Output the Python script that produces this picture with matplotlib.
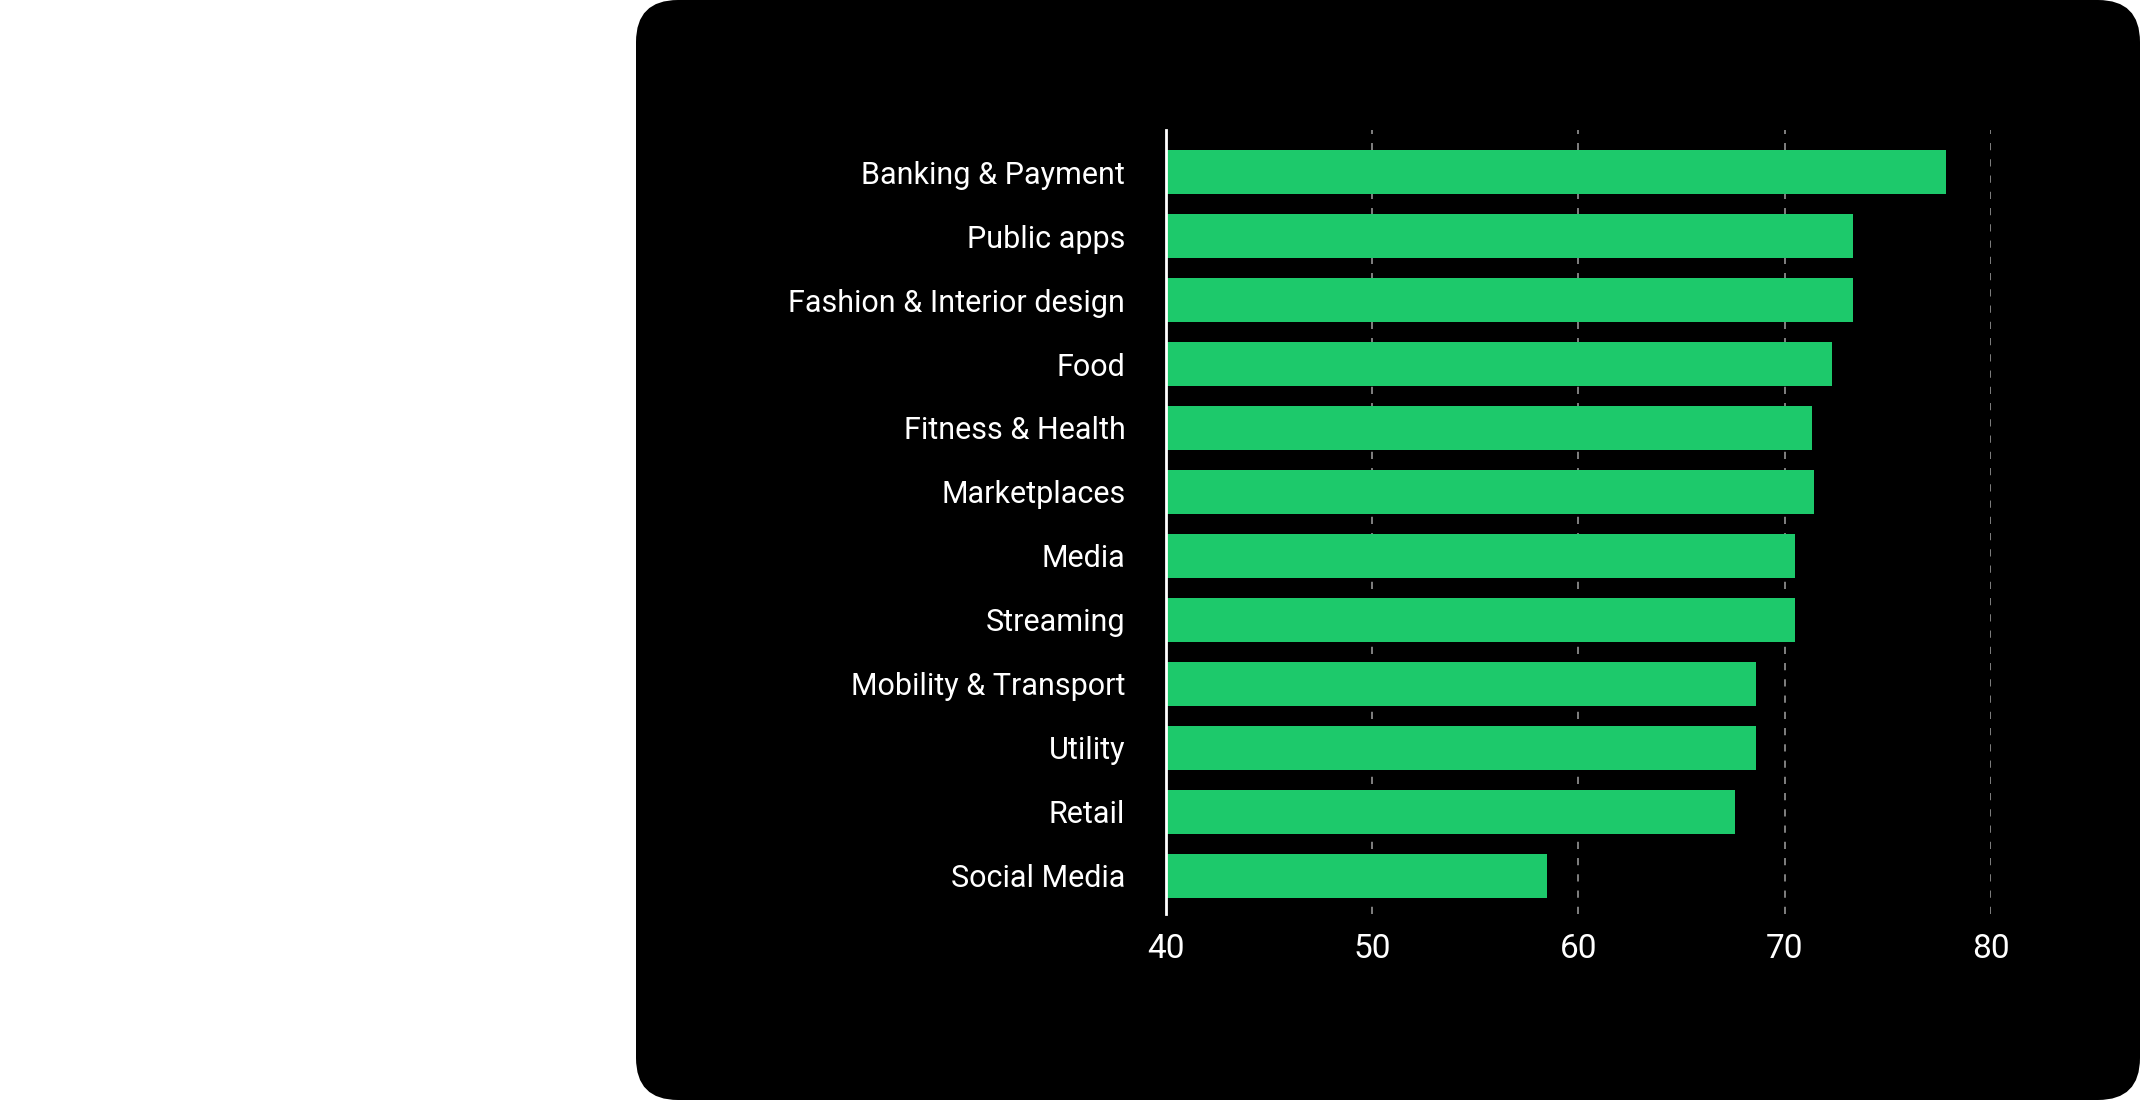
import matplotlib.pyplot as plt
from matplotlib.patches import FancyBboxPatch

categories = ["Banking & Payment", "Public apps", "Fashion & Interior design", "Food",
              "Fitness & Health", "Marketplaces", "Media", "Streaming",
              "Mobility & Transport", "Utility", "Retail", "Social Media"]
values = [77.8, 73.3, 73.3, 72.3, 71.3, 71.4, 70.5, 70.5, 68.6, 68.6, 67.6, 58.5]
xticks = [40, 50, 60, 70, 80]

green = "#1dc96b"
plt.rcParams['font.family'] = ['Roboto', 'DejaVu Sans']

W, H = 2140, 1100
fig = plt.figure(figsize=(W / 100, H / 100), dpi=100)
fig.patch.set_facecolor("white")

# background axes in pixel units, holds the black rounded card
bg = fig.add_axes([0, 0, 1, 1], zorder=0)
bg.set_xlim(0, W)
bg.set_ylim(0, H)
bg.axis("off")
bg.add_patch(FancyBboxPatch((636, 0), W - 636, H,
                            boxstyle="round,pad=0,rounding_size=42",
                            facecolor="black", edgecolor="none"))

ax = fig.add_axes([1165.6 / W, 186 / H, (1991.3 - 1165.6) / W, 784 / H], zorder=1)
ax.set_facecolor("none")

pos = list(range(len(categories)))
ax.barh(pos, values, height=0.69, color=green, zorder=2)
ax.set_xlim(40, 80)
ax.set_ylim(len(categories) - 1 + 0.6, -0.66)

ax.set_yticks(pos)
ax.set_yticklabels(categories, fontsize=22, color="white")
ax.set_xticks(xticks)
ax.set_xticklabels([str(t) for t in xticks], fontsize=24, color="white")
ax.tick_params(axis="y", length=0, pad=29)
ax.tick_params(axis="x", length=0, pad=14)

for t in xticks[1:]:
    ax.axvline(t, color="#8a8a8a", lw=1.3, ls=(0, (4, 5)), zorder=1)

for s in ["top", "right", "bottom"]:
    ax.spines[s].set_visible(False)
ax.spines["left"].set_color("white")
ax.spines["left"].set_linewidth(2)
ax.spines["left"].set_zorder(3)

fig.savefig("out.png", dpi=100, facecolor=fig.get_facecolor())
